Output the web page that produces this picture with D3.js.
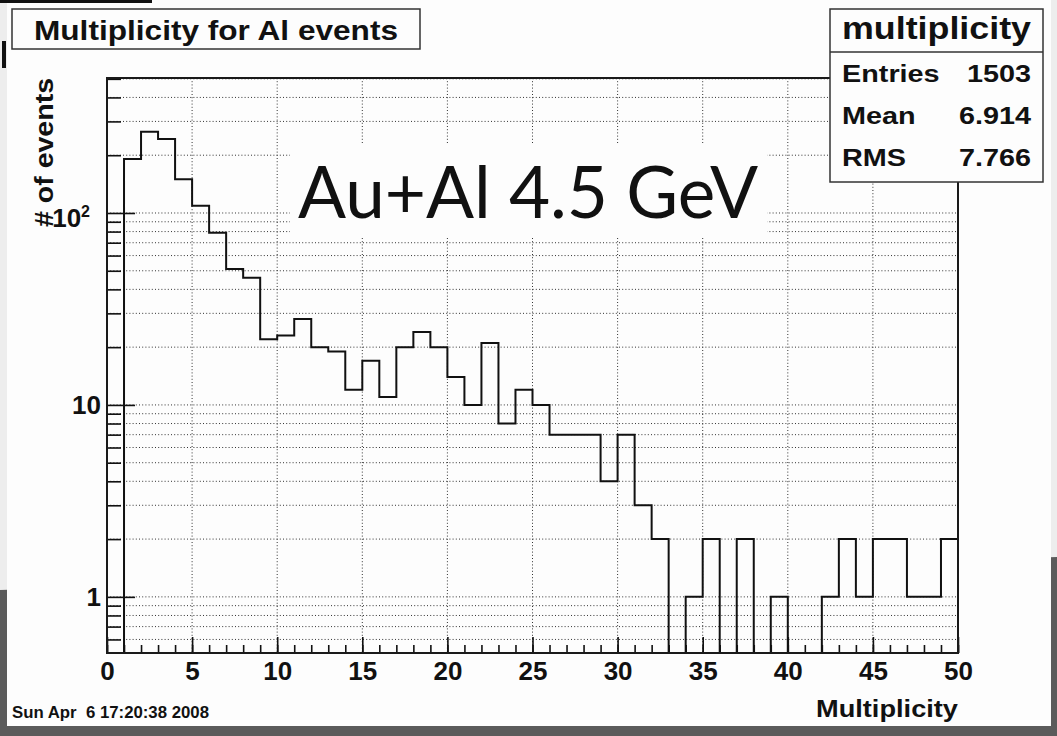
<!DOCTYPE html>
<html>
<head>
<meta charset="utf-8">
<script src="https://cdn.jsdelivr.net/npm/d3@7/dist/d3.min.js"></script>
<style>
    body { margin: 0; background: #eeeeee; }
    svg { display: block; }
    text { font-family: "Liberation Sans", Arial, sans-serif; font-weight: bold; fill: #111; }
</style>
</head>
<body>
<div id="chart"></div>
<script>
// bin contents, bins of width 1 starting at 0 (0-1, 1-2, ... 49-50)
const counts = [
    0, 191, 265, 243, 150, 109, 79, 51, 46, 22,
    23, 28, 20, 19, 12, 17, 11, 20, 24, 20,
    14, 10, 21, 8, 12, 10, 7, 7, 7, 4,
    7, 3, 2, 0, 1, 2, 0, 2, 0, 1,
    0, 0, 1, 2, 1, 2, 2, 1, 1, 2
];
const xMajorTicks = [0, 5, 10, 15, 20, 25, 30, 35, 40, 45, 50];
const xGridTicks = [5, 10, 15, 20, 25, 30, 35, 40, 45];
const yDomain = [0.51, 505];
const statLabels = ["Entries", "Mean", "RMS"];
const statValues = ["1503", "6.914", "7.766"];

const W = 1057, H = 736;
const margin = { top: 78, right: 99, bottom: 83, left: 107 };
const width = W - margin.left - margin.right;
const height = H - margin.top - margin.bottom;

const svg = d3.select("#chart").append("svg")
    .attr("width", W)
    .attr("height", H);

// photo background: slide edge + white canvas
svg.append("rect").attr("width", W).attr("height", H).attr("fill", "#ededed");
svg.append("polygon")
    .attr("points", "0,590 1057,557 1057,736 0,736")
    .attr("fill", "#5b5b5b");
svg.append("rect")
    .attr("x", 7).attr("y", 0)
    .attr("width", 1044).attr("height", 726)
    .attr("fill", "#fdfdfd");
svg.append("rect").attr("x", 0).attr("y", 0).attr("width", 152).attr("height", 3).attr("fill", "#111");
svg.append("rect").attr("x", 2).attr("y", 41).attr("width", 4).attr("height", 27).attr("fill", "#111");

const xScale = d3.scaleLinear()
    .domain([0, 50])
    .range([0, width]);

const yScale = d3.scaleLog()
    .domain(yDomain)
    .range([height, 0]);

const g = svg.append("g")
    .attr("transform", `translate(${margin.left}, ${margin.top})`);

const yTicks = yScale.ticks();
const isMajor = v => Math.abs(Math.log10(v) - Math.round(Math.log10(v))) < 1e-6;

// dotted grid
g.append("g")
    .selectAll("line.hgrid")
    .data(yTicks)
    .enter()
    .append("line")
    .attr("x1", 0).attr("x2", width)
    .attr("y1", d => yScale(d)).attr("y2", d => yScale(d))
    .attr("stroke", "#333")
    .attr("stroke-width", 1)
    .attr("stroke-dasharray", "1,2.2");

g.append("g")
    .selectAll("line.vgrid")
    .data(xGridTicks)
    .enter()
    .append("line")
    .attr("x1", d => xScale(d)).attr("x2", d => xScale(d))
    .attr("y1", 0).attr("y2", height)
    .attr("stroke", "#333")
    .attr("stroke-width", 1)
    .attr("stroke-dasharray", "1,2.2");

// overlay label on the slide
svg.append("rect")
    .attr("x", 290).attr("y", 143)
    .attr("width", 477).attr("height", 95)
    .attr("fill", "#fdfdfd");
svg.append("text")
    .attr("x", 298)
    .attr("y", 218)
    .attr("textLength", 460)
    .attr("lengthAdjust", "spacingAndGlyphs")
    .style("font-family", "Lato, 'Open Sans', sans-serif")
    .style("font-weight", "normal")
    .style("font-size", "71px")
    .text("Au+Al 4.5 GeV");

// histogram as a step line
const yBottom = yScale(yDomain[0]);
const yOf = c => c > 0 ? yScale(c) : yBottom;
const pts = [[xScale(0), yBottom]];
counts.forEach((c, i) => {
    pts.push([xScale(i), yOf(c)]);
    pts.push([xScale(i + 1), yOf(c)]);
});
pts.push([xScale(counts.length), yBottom]);

g.append("path")
    .attr("d", d3.line()(pts))
    .attr("fill", "none")
    .attr("stroke", "#111")
    .attr("stroke-width", 2);

// axes (ROOT style: ticks pointing inward)
g.append("g")
    .attr("transform", `translate(0, ${height})`)
    .call(d3.axisBottom(xScale).tickValues(d3.range(0, 51)).tickSize(-8).tickSizeOuter(0).tickFormat(""))
    .call(a => a.select(".domain").remove());

const xAxis = g.append("g")
    .attr("transform", `translate(0, ${height})`)
    .call(d3.axisBottom(xScale).tickValues(xMajorTicks).tickSize(-16).tickSizeOuter(0).tickPadding(9).tickFormat(d3.format("d")));
xAxis.select(".domain").remove();

g.append("g")
    .call(d3.axisLeft(yScale).tickValues(yTicks.filter(d => !isMajor(d))).tickSize(-14).tickSizeOuter(0).tickFormat(""))
    .call(a => a.select(".domain").remove());

const yAxis = g.append("g")
    .call(d3.axisLeft(yScale).tickValues(yTicks.filter(isMajor)).tickSize(-28).tickSizeOuter(0).tickPadding(6)
        .tickFormat(d => d >= 100 ? "" : d3.format("d")(d)));
yAxis.select(".domain").remove();

// 10^2 label with superscript
yAxis.selectAll(".tick")
    .filter(d => d >= 100)
    .select("text")
    .attr("x", -17)
    .attr("dy", 14)
    .call(t => {
        t.append("tspan").text("10");
        t.append("tspan").attr("dy", -10).style("font-size", "16px").text("2");
    });

svg.selectAll(".tick line").attr("stroke", "#111").attr("stroke-width", 1.6);
svg.selectAll(".tick text")
    .attr("fill", "#111")
    .style("font-family", "'Liberation Sans', Arial, sans-serif")
    .style("font-weight", "bold")
    .style("font-size", "26px");

// frame
g.append("rect")
    .attr("width", width)
    .attr("height", height)
    .attr("fill", "none")
    .attr("stroke", "#1a1a1a")
    .attr("stroke-width", 2);

// axis titles
svg.append("text")
    .attr("x", margin.left + width)
    .attr("y", 717)
    .attr("text-anchor", "end")
    .attr("textLength", 142)
    .attr("lengthAdjust", "spacingAndGlyphs")
    .style("font-size", "24px")
    .text("Multiplicity");

svg.append("text")
    .attr("transform", `translate(53, ${margin.top}) rotate(-90)`)
    .attr("text-anchor", "end")
    .attr("textLength", 149)
    .attr("lengthAdjust", "spacingAndGlyphs")
    .style("font-size", "25px")
    .text("# of events");

// title box
svg.append("rect")
    .attr("x", 12).attr("y", 9)
    .attr("width", 408).attr("height", 40)
    .attr("fill", "#fdfdfd")
    .attr("stroke", "#333")
    .attr("stroke-width", 1.5);
svg.append("text")
    .attr("x", 34)
    .attr("y", 40)
    .attr("textLength", 364)
    .attr("lengthAdjust", "spacingAndGlyphs")
    .style("font-size", "27px")
    .text("Multiplicity for Al events");

// stats box
const stats = svg.append("g");
stats.append("rect")
    .attr("x", 830).attr("y", 9)
    .attr("width", 213).attr("height", 173)
    .attr("fill", "#fdfdfd")
    .attr("stroke", "#333")
    .attr("stroke-width", 1.5);
stats.append("line")
    .attr("x1", 830).attr("x2", 1043)
    .attr("y1", 52).attr("y2", 52)
    .attr("stroke", "#333")
    .attr("stroke-width", 1.5);
stats.append("text")
    .attr("x", 842)
    .attr("y", 39)
    .attr("textLength", 189)
    .attr("lengthAdjust", "spacingAndGlyphs")
    .style("font-size", "31px")
    .text("multiplicity");

// the photographed canvas is stretched sideways, so widen the stat rows
const stretch = 1.2;
const rowY = d3.scalePoint().domain(statLabels).range([82, 166]);
stats.selectAll("text.lbl")
    .data(statLabels)
    .enter()
    .append("text")
    .attr("transform", d => `translate(842, ${rowY(d)}) scale(${stretch}, 1)`)
    .style("font-size", "24px")
    .text(d => d);
stats.selectAll("text.val")
    .data(statValues)
    .enter()
    .append("text")
    .attr("transform", (d, i) => `translate(1031, ${rowY(statLabels[i])}) scale(${stretch}, 1)`)
    .attr("text-anchor", "end")
    .style("font-size", "24px")
    .text(d => d);

// date stamp
svg.append("text")
    .attr("x", 12)
    .attr("y", 718)
    .attr("textLength", 197)
    .attr("lengthAdjust", "spacingAndGlyphs")
    .style("font-size", "16px")
    .style("white-space", "pre")
    .text("Sun Apr  6 17:20:38 2008");
</script>
</body>
</html>
